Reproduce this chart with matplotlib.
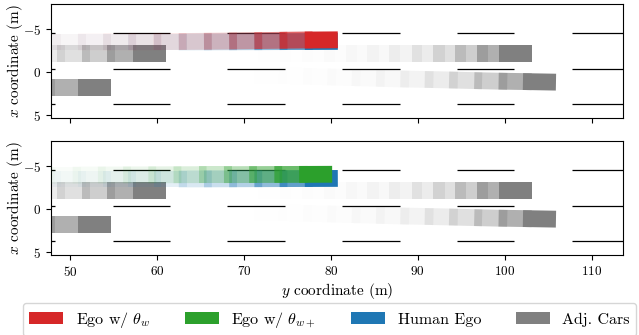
import numpy as np
import matplotlib.pyplot as plt
from matplotlib.patches import Rectangle, Patch

plt.rcParams['font.family'] = 'serif'
plt.rcParams['font.serif'] = ['cmr10']
plt.rcParams['mathtext.fontset'] = 'cm'
plt.rcParams['axes.formatter.use_mathtext'] = True

# car centres, newest first. "y" runs along the road (horizontal),
# "x" across it (vertical, axis inverted)
adj1_y = [59.1, 56.2, 53.3, 50.4, 47.5, 44.6, 41.7, 38.8]
adj1_x = [-2.2, -2.2, -2.2, -2.2, -2.2, -2.2, -2.2, -2.2]
adj2_y = [52.8, 49.6, 46.4, 43.2, 40.0, 36.8]
adj2_x = [1.75, 1.75, 1.75, 1.75, 1.75, 1.75]
adj3_y = [101.2, 98.7, 96.2, 93.7, 91.2, 88.6, 86.1, 83.6, 81.1, 78.6, 76.0, 73.5]
adj3_x = [-2.2, -2.2, -2.2, -2.2, -2.2, -2.2, -2.2, -2.2, -2.2, -2.2, -2.2, -2.2]
adj4_y = [104.0, 101.2, 98.4, 95.5, 92.7, 89.9, 87.1, 84.3, 81.5, 78.7, 75.9, 73.1]
adj4_x = [1.12, 1.07, 1.02, 0.95, 0.88, 0.82, 0.76, 0.68, 0.60, 0.52, 0.44, 0.36]

human_y = [78.9, 76.0, 73.1, 70.2, 67.3, 64.4, 61.5, 58.6, 55.7, 52.8, 49.9, 47.0]
human_x = [-3.56, -3.55, -3.54, -3.53, -3.52, -3.51, -3.50, -3.50, -3.50, -3.50, -3.50, -3.50]
ego_w_y = [78.9, 76.0, 73.1, 70.2, 67.3, 64.4, 61.5, 58.6, 55.7, 52.8, 49.9, 47.0]
ego_w_x = [-3.74, -3.72, -3.68, -3.64, -3.60, -3.57, -3.55, -3.53, -3.52, -3.51, -3.50, -3.50]
ego_wp_y = [78.25, 75.4, 72.5, 69.6, 66.7, 63.8, 60.9, 58.0, 55.1, 52.2, 49.3, 46.4]
ego_wp_x = [-4.04, -4.03, -4.02, -4.01, -4.0, -4.0, -3.99, -3.98, -3.97, -3.96, -3.95, -3.95]

# lane markings
lane_x = [-4.5, -0.4, 3.7]
dash_start = [41.7, 54.9, 68.1, 81.3, 94.5, 107.7]
dash_end = [48.3, 61.5, 74.7, 87.9, 101.1, 114.3]

labels = ['Ego w/ $\\theta_w$', 'Ego w/ $\\theta_{w+}$', 'Human Ego', 'Adj. Cars']
colors = ['#d62728', '#2ca02c', '#1f77b4', 'gray']

car_len = 3.8
car_wid = 1.95


def draw_traj(ax, ys, xs, color, z, fade=0.62):
    ys = np.array(ys)
    xs = np.array(xs)
    n = len(ys)
    for k in range(n - 1, -1, -1):
        if k + 1 < n:
            ang = np.degrees(np.arctan2(xs[k] - xs[k + 1], ys[k] - ys[k + 1]))
        else:
            ang = 0
        a = fade ** k
        r = Rectangle((ys[k] - car_len / 2, xs[k] - car_wid / 2), car_len, car_wid,
                      angle=ang, rotation_point='center', facecolor=color,
                      edgecolor='none', alpha=a, zorder=z)
        ax.add_patch(r)


def draw_road(ax):
    for lx in lane_x:
        ax.hlines([lx] * len(dash_start), dash_start, dash_end, color='k',
                  lw=0.9, zorder=1)


fig = plt.figure(figsize=(6.39, 3.35), dpi=100)
ax1 = fig.add_axes([0.0798, 0.648, 0.895, 0.340])
ax2 = fig.add_axes([0.0798, 0.239, 0.895, 0.340])

for ax, ego_y, ego_x, col in [(ax1, ego_w_y, ego_w_x, colors[0]),
                              (ax2, ego_wp_y, ego_wp_x, colors[1])]:
    draw_road(ax)
    draw_traj(ax, adj1_y, adj1_x, colors[3], 2)
    draw_traj(ax, adj2_y, adj2_x, colors[3], 2)
    draw_traj(ax, adj3_y, adj3_x, colors[3], 2)
    draw_traj(ax, adj4_y, adj4_x, colors[3], 2)
    draw_traj(ax, human_y, human_x, colors[2], 3, 0.7)
    draw_traj(ax, ego_y, ego_x, col, 4, 0.7)
    ax.set_xlim(47.8, 113.6)
    ax.set_ylim(5.3, -7.9)
    ax.set_yticks([-5, 0, 5])
    ax.set_xticks([50, 60, 70, 80, 90, 100, 110])
    ax.tick_params(labelsize=9.5)
    ax.set_ylabel('$x$ coordinate (m)', fontsize=11)
    ax.yaxis.set_label_coords(-0.046, 0.5)

ax1.set_xticklabels([])
ax2.set_xlabel('$y$ coordinate (m)', fontsize=11, labelpad=2)

handles = [Patch(facecolor=c) for c in colors]
fig.legend(handles, labels, loc='center', bbox_to_anchor=(0.516, 0.046),
           ncol=4, fontsize=11.5, handlelength=2.1, handletextpad=0.8,
           columnspacing=2.2)

plt.savefig('out.png', dpi=100)
